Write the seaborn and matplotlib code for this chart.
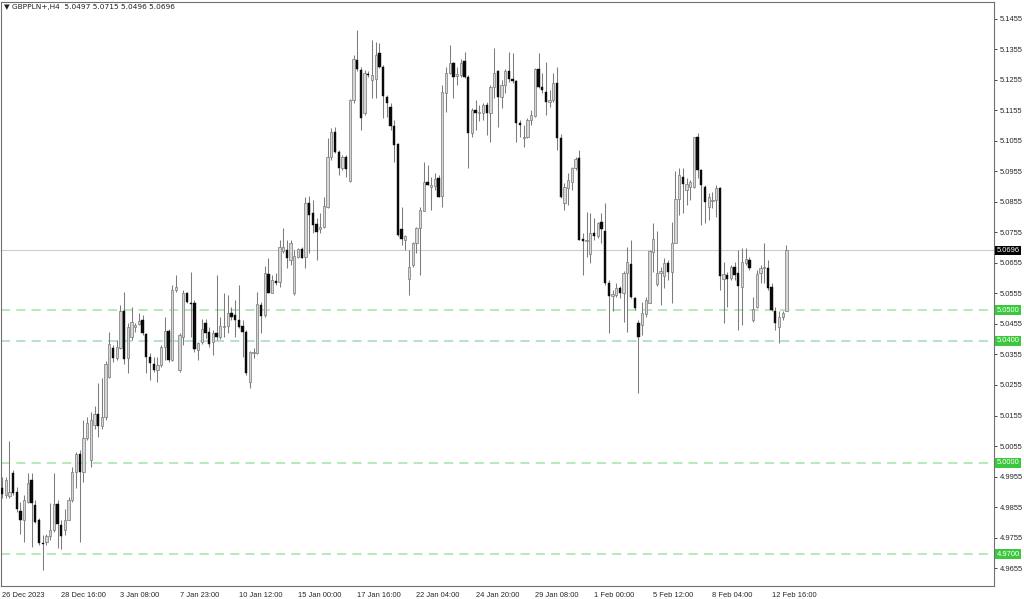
import numpy as np
import pandas as pd
import matplotlib
matplotlib.use('Agg')
import matplotlib.pyplot as plt
import seaborn as sns

# GBPPLN+ H4 candles (index 0 = 26 Dec 2023)
opens = [4.9916, 4.9894, 4.9891, 4.9967, 4.9905, 4.9843, 4.9812, 4.9872, 4.9943, 4.9863,
         4.9812, 4.9738, 4.9741, 4.9760, 4.9779, 4.9865, 4.9796, 4.9779, 4.9814, 4.9878,
         4.9971, 5.0029, 4.9971, 5.0080, 5.0010, 5.0125, 5.0160, 5.0120, 5.0150, 5.0282,
         5.0375, 5.0343, 5.0375, 5.0499, 5.0343, 5.0411, 5.0444, 5.0455, 5.0468, 5.0422,
         5.0346, 5.0324, 5.0304, 5.0321, 5.0379, 5.0433, 5.0337, 5.0567, 5.0304, 5.0414,
         5.0556, 5.0525, 5.0523, 5.0370, 5.0395, 5.0457, 5.0430, 5.0395, 5.0426, 5.0413,
         5.0446, 5.0448, 5.0492, 5.0484, 5.0468, 5.0448, 5.0430, 5.0265, 5.0359, 5.0359,
         5.0517, 5.0484, 5.0620, 5.0558, 5.0597, 5.0594, 5.0695, 5.0697, 5.0665, 5.0555,
         5.0676, 5.0700, 5.0674, 5.0851, 5.0820, 5.0783, 5.0766, 5.0774, 5.0840, 5.1004,
         5.1083, 5.1020, 5.0966, 5.1004, 5.0925, 5.1190, 5.1319, 5.1288, 5.1146, 5.1275,
         5.1255, 5.1257, 5.1343, 5.1299, 5.1198, 5.1166, 5.1104, 5.1045, 5.0766, 5.0731,
         5.0602, 5.0649, 5.0720, 5.0769, 5.0827, 5.0920, 5.0905, 5.0908, 5.0933, 5.0875,
         5.1212, 5.1279, 5.1310, 5.1269, 5.1272, 5.1318, 5.1264, 5.1080, 5.1155, 5.1148,
         5.1148, 5.1173, 5.1146, 5.1233, 5.1283, 5.1198, 5.1238, 5.1285, 5.1259, 5.1253,
         5.1115, 5.1065, 5.1067, 5.1124, 5.1137, 5.1290, 5.1231, 5.1217, 5.1184, 5.1189,
         5.1244, 5.1064, 5.0853, 5.0900, 5.0921, 5.0965, 5.0998, 5.0735, 5.0727, 5.0686,
         5.0754, 5.0743, 5.0790, 5.0760, 5.0588, 5.0547, 5.0550, 5.0572, 5.0556, 5.0623,
         5.0651, 5.0539, 5.0457, 5.0452, 5.0488, 5.0525, 5.0692, 5.0586, 5.0623, 5.0612,
         5.0654, 5.0627, 5.0722, 5.0864, 5.0938, 5.0894, 5.0903, 5.0905, 5.1067, 5.0960,
         5.0905, 5.0838, 5.0858, 5.0862, 5.0900, 5.0602, 5.0616, 5.0605, 5.0643, 5.0623,
         5.0575, 5.0656, 5.0665, 5.0468, 5.0510, 5.0623, 5.0638, 5.0638, 5.0575, 5.0499,
         5.0446, 5.0477, 5.0497]
highs = [4.9954, 4.9952, 5.0072, 4.9976, 4.9921, 4.9872, 4.9894, 4.9965, 4.9965, 4.9878,
         4.9818, 4.9763, 4.9768, 4.9867, 4.9967, 4.9878, 4.9812, 4.9850, 4.9889, 4.9987,
         5.0036, 5.0042, 5.0140, 5.0150, 5.0165, 5.0185, 5.0262, 5.0277, 5.0335, 5.0430,
         5.0386, 5.0403, 5.0517, 5.0561, 5.0457, 5.0512, 5.0457, 5.0490, 5.0485, 5.0425,
         5.0359, 5.0348, 5.0348, 5.0386, 5.0479, 5.0440, 5.0583, 5.0616, 5.0425, 5.0567,
         5.0561, 5.0627, 5.0534, 5.0397, 5.0470, 5.0473, 5.0446, 5.0435, 5.0615, 5.0479,
         5.0555, 5.0550, 5.0512, 5.0534, 5.0583, 5.0468, 5.0435, 5.0368, 5.0375, 5.0561,
         5.0528, 5.0645, 5.0673, 5.0615, 5.0621, 5.0732, 5.0769, 5.0730, 5.0730, 5.0697,
         5.0703, 5.0708, 5.0873, 5.0875, 5.0862, 5.0802, 5.0818, 5.0873, 5.1064, 5.1097,
         5.1102, 5.1026, 5.1009, 5.1009, 5.1193, 5.1337, 5.1419, 5.1299, 5.1288, 5.1283,
         5.1386, 5.1381, 5.1375, 5.1304, 5.1206, 5.1179, 5.1124, 5.1048, 5.0840, 5.0747,
         5.0698, 5.0725, 5.0774, 5.0840, 5.0987, 5.0977, 5.0938, 5.0949, 5.0944, 5.1239,
         5.1299, 5.1370, 5.1315, 5.1299, 5.1323, 5.1348, 5.1272, 5.1162, 5.1190, 5.1173,
         5.1179, 5.1184, 5.1239, 5.1359, 5.1288, 5.1255, 5.1290, 5.1348, 5.1342, 5.1255,
         5.1124, 5.1107, 5.1129, 5.1156, 5.1293, 5.1342, 5.1277, 5.1315, 5.1222, 5.1277,
         5.1299, 5.1078, 5.0916, 5.0949, 5.0971, 5.1003, 5.1025, 5.0752, 5.0823, 5.0818,
         5.0801, 5.0790, 5.0818, 5.0853, 5.0599, 5.0567, 5.0591, 5.0578, 5.0630, 5.0709,
         5.0731, 5.0545, 5.0468, 5.0528, 5.0545, 5.0696, 5.0787, 5.0761, 5.0643, 5.0670,
         5.0665, 5.0791, 5.0955, 5.0966, 5.0966, 5.0933, 5.0927, 5.1069, 5.1080, 5.0962,
         5.0911, 5.0884, 5.0889, 5.0911, 5.0905, 5.0659, 5.0627, 5.0649, 5.0659, 5.0698,
         5.0703, 5.0703, 5.0676, 5.0545, 5.0632, 5.0649, 5.0722, 5.0665, 5.0588, 5.0512,
         5.0496, 5.0499, 5.0715]
lows = [4.9883, 4.9883, 4.9886, 4.9894, 4.9839, 4.9768, 4.9741, 4.9867, 4.9725, 4.9801,
        4.9730, 4.9648, 4.9730, 4.9747, 4.9774, 4.9719, 4.9716, 4.9763, 4.9812, 4.9872,
        4.9916, 4.9741, 4.9938, 5.0075, 4.9985, 5.0110, 5.0085, 5.0110, 5.0140, 5.0277,
        5.0332, 5.0337, 5.0372, 5.0324, 5.0293, 5.0403, 5.0430, 5.0452, 5.0419, 5.0293,
        5.0272, 5.0299, 5.0266, 5.0315, 5.0337, 5.0332, 5.0335, 5.0561, 5.0298, 5.0386,
        5.0523, 5.0414, 5.0364, 5.0337, 5.0390, 5.0408, 5.0380, 5.0353, 5.0402, 5.0405,
        5.0413, 5.0424, 5.0468, 5.0413, 5.0441, 5.0348, 5.0288, 5.0244, 5.0342, 5.0356,
        5.0424, 5.0479, 5.0555, 5.0555, 5.0583, 5.0577, 5.0687, 5.0637, 5.0648, 5.0550,
        5.0670, 5.0670, 5.0638, 5.0687, 5.0752, 5.0665, 5.0752, 5.0769, 5.0834, 5.0993,
        5.1015, 5.0944, 5.0960, 5.0938, 5.0922, 5.1179, 5.1283, 5.1091, 5.1140, 5.1266,
        5.1195, 5.1195, 5.1294, 5.1130, 5.1135, 5.1091, 5.0987, 5.0742, 5.0714, 5.0698,
        5.0550, 5.0643, 5.0687, 5.0616, 5.0824, 5.0911, 5.0829, 5.0895, 5.0871, 5.0840,
        5.1151, 5.1275, 5.1195, 5.1239, 5.1266, 5.1261, 5.0966, 5.1069, 5.1091, 5.1119,
        5.1124, 5.1075, 5.1053, 5.1195, 5.1102, 5.1162, 5.1211, 5.1249, 5.1244, 5.1053,
        5.1069, 5.1036, 5.1064, 5.1107, 5.1135, 5.1228, 5.1211, 5.1140, 5.1167, 5.1184,
        5.1025, 5.0867, 5.0829, 5.0845, 5.0894, 5.0960, 5.0730, 5.0615, 5.0676, 5.0654,
        5.0730, 5.0736, 5.0719, 5.0583, 5.0427, 5.0496, 5.0545, 5.0539, 5.0463, 5.0430,
        5.0539, 5.0501, 5.0228, 5.0419, 5.0479, 5.0523, 5.0627, 5.0578, 5.0517, 5.0572,
        5.0599, 5.0525, 5.0720, 5.0813, 5.0818, 5.0845, 5.0862, 5.0900, 5.0933, 5.0780,
        5.0785, 5.0796, 5.0834, 5.0807, 5.0567, 5.0457, 5.0512, 5.0599, 5.0599, 5.0435,
        5.0452, 5.0649, 5.0632, 5.0463, 5.0506, 5.0591, 5.0588, 5.0567, 5.0496, 5.0435,
        5.0392, 5.0468, 5.0496]
closes = [4.9897, 4.9943, 4.9905, 4.9902, 4.9847, 4.9814, 4.9878, 4.9934, 4.9867, 4.9807,
          4.9736, 4.9733, 4.9760, 4.9781, 4.9865, 4.9799, 4.9760, 4.9814, 4.9878, 4.9971,
          5.0029, 4.9971, 5.0080, 5.0129, 5.0140, 5.0160, 5.0120, 5.0150, 5.0324, 5.0390,
          5.0343, 5.0379, 5.0499, 5.0339, 5.0446, 5.0460, 5.0452, 5.0465, 5.0425, 5.0348,
          5.0326, 5.0304, 5.0321, 5.0379, 5.0433, 5.0337, 5.0567, 5.0576, 5.0419, 5.0556,
          5.0528, 5.0521, 5.0372, 5.0392, 5.0440, 5.0424, 5.0391, 5.0424, 5.0413, 5.0448,
          5.0449, 5.0492, 5.0479, 5.0468, 5.0446, 5.0430, 5.0293, 5.0364, 5.0364, 5.0520,
          5.0481, 5.0623, 5.0558, 5.0599, 5.0588, 5.0708, 5.0706, 5.0670, 5.0722, 5.0678,
          5.0700, 5.0673, 5.0851, 5.0813, 5.0780, 5.0756, 5.0774, 5.0842, 5.1004, 5.1086,
          5.1020, 5.0966, 5.1004, 5.0962, 5.1190, 5.1323, 5.1290, 5.1130, 5.1277, 5.1272,
          5.1272, 5.1337, 5.1299, 5.1201, 5.1179, 5.1104, 5.1042, 5.0747, 5.0733, 5.0742,
          5.0641, 5.0722, 5.0769, 5.0829, 5.0919, 5.0912, 5.0911, 5.0930, 5.0873, 5.1214,
          5.1279, 5.1312, 5.1264, 5.1274, 5.1312, 5.1264, 5.1080, 5.1157, 5.1148, 5.1151,
          5.1173, 5.1148, 5.1233, 5.1279, 5.1198, 5.1239, 5.1285, 5.1257, 5.1253, 5.1115,
          5.1107, 5.1069, 5.1124, 5.1140, 5.1290, 5.1231, 5.1222, 5.1184, 5.1191, 5.1244,
          5.1064, 5.0872, 5.0905, 5.0927, 5.0965, 5.0995, 5.0732, 5.0728, 5.0732, 5.0752,
          5.0743, 5.0785, 5.0765, 5.0588, 5.0547, 5.0553, 5.0572, 5.0556, 5.0623, 5.0659,
          5.0545, 5.0506, 5.0414, 5.0492, 5.0534, 5.0694, 5.0733, 5.0623, 5.0628, 5.0654,
          5.0627, 5.0722, 5.0864, 5.0944, 5.0914, 5.0914, 5.0922, 5.1067, 5.0960, 5.0911,
          5.0856, 5.0870, 5.0862, 5.0900, 5.0612, 5.0619, 5.0602, 5.0643, 5.0616, 5.0578,
          5.0659, 5.0667, 5.0638, 5.0503, 5.0619, 5.0638, 5.0643, 5.0572, 5.0501, 5.0457,
          5.0479, 5.0492, 5.0696]

tick_bars = [0, 16, 32, 48, 64, 80, 96, 112, 128, 144, 160, 176, 192, 208]
tick_labels = ['26 Dec 2023', '28 Dec 16:00', '3 Jan 08:00', '7 Jan 23:00', '10 Jan 12:00',
               '15 Jan 00:00', '17 Jan 16:00', '22 Jan 04:00', '24 Jan 20:00', '29 Jan 08:00',
               '1 Feb 00:00', '5 Feb 12:00', '8 Feb 04:00', '12 Feb 16:00']
price_ticks = [4.9655 + 0.01 * k for k in range(19)]
levels = [5.0500, 5.0400, 5.0000, 4.9700]
level_colors = ['#a4e2a4', '#a6d4c8', '#a4e2a4', '#a4e2a4']
last_price = 5.0696
header = '\u25bc GBPPLN+,H4  5.0497 5.0715 5.0496 5.0696'

df = pd.DataFrame({'open': opens, 'high': highs, 'low': lows, 'close': closes})
df['bar'] = np.arange(len(df))
df['bull'] = df['close'] >= df['open']

sns.set_theme(style='white')
plt.rcParams['font.family'] = ['Liberation Sans', 'DejaVu Sans']

fig = plt.figure(figsize=(10.24, 5.99), dpi=100)
ax = fig.add_axes([1 / 1024, 13 / 599, 993 / 1024, 584 / 599])

# support / resistance levels and last price line
for lv, col in zip(levels, level_colors):
    ax.axhline(lv, color=col, lw=1.1, dashes=(6, 4), zorder=1)
ax.axhline(last_price, color='#cccccc', lw=0.8, zorder=1)

# wicks
ax.vlines(df['bar'], df['low'], df['high'], color='#7c7c7c', lw=0.75, zorder=2)

# bodies
body_w = 0.62
min_h = 0.0003
up = df[df['bull']]
dn = df[~df['bull']]
ax.bar(up['bar'], np.maximum(up['close'] - up['open'], min_h), bottom=up['open'],
       width=body_w, color='#d6d6d6', edgecolor='#777777', linewidth=0.5, zorder=3)
ax.bar(dn['bar'], np.maximum(dn['open'] - dn['close'], min_h), bottom=dn['close'],
       width=body_w, color='#0a0a0a', edgecolor='#0a0a0a', linewidth=0.3, zorder=3)

ax.set_xlim(-0.27, 268.1)
ax.set_ylim(4.95960, 5.15107)

ax.yaxis.tick_right()
ax.set_yticks(price_ticks)
ax.set_yticklabels([f'{p:.4f}' for p in price_ticks])
ax.set_xticks(tick_bars)
ax.set_xticklabels(tick_labels, ha='left')
ax.tick_params(axis='both', labelsize=5.4, colors='#262626', length=2.5, width=0.6,
               direction='out', pad=1.5)
ax.tick_params(axis='x', pad=2)
for s in ax.spines.values():
    s.set_color('#707070')
    s.set_linewidth(0.8)

# price tags on the right axis
ytr = ax.get_yaxis_transform()
for lv in levels:
    ax.text(1.0025, lv, f'{lv:.4f}', transform=ytr, fontsize=5.4, color='white',
            va='center', ha='left', zorder=5,
            bbox=dict(boxstyle='square,pad=0.18', fc='#3cc83c', ec='none'))
ax.text(1.0025, last_price, f'{last_price:.4f}', transform=ytr, fontsize=5.4,
        color='white', va='center', ha='left', zorder=5,
        bbox=dict(boxstyle='square,pad=0.18', fc='#000000', ec='none'))

fig.text(4 / 1024, 1 - 7 / 599, header, fontsize=5.3, color='#202020',
         va='center', ha='left', family=['DejaVu Sans'])

fig.savefig('out.png', dpi=100)
